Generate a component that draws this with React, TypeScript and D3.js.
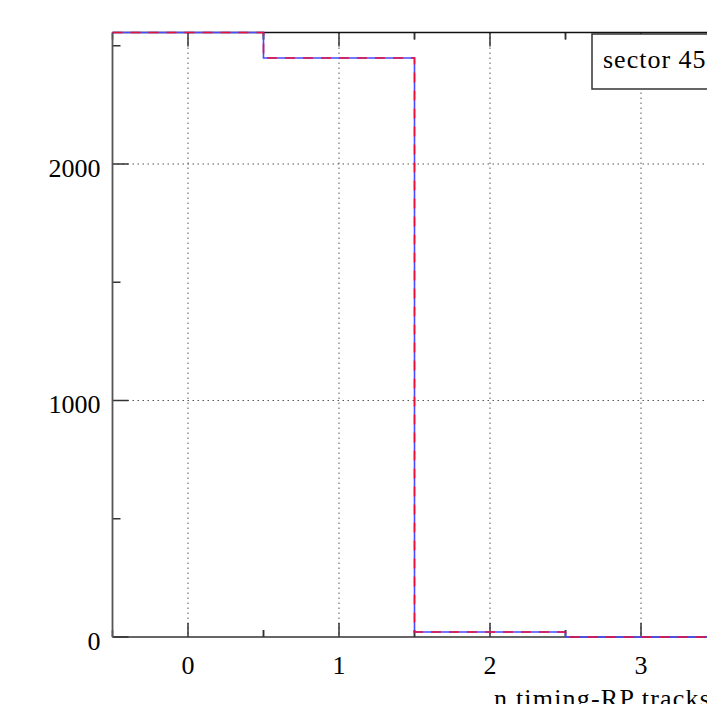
import React from "react";
import * as d3 from "d3";

const binEdges = [-0.5, 0.5, 1.5, 2.5, 3.5, 4.5, 5.5];
const binCounts = [2556, 2448, 21, 0, 0, 0];
const xTicks = [0, 1, 2, 3, 4, 5];
const xTickLabels = ["0", "1", "2", "3"];
const yTicks = [0, 1000, 2000];
const legendLabel = "sector 45";
const xTitle = "n timing-RP tracks";

const W = 707;
const H = 704;
const FONT = "'Liberation Serif', 'DejaVu Serif', serif";

export default function App() {
  const x = d3.scaleLinear().domain([-0.5, 3.5]).range([112.5, 716.5]);
  const y = d3.scaleLinear().domain([0, 2556]).range([637, 32.5]);
  const xMax = x(5.5);
  const left = x(-0.5);
  const bottom = y(0);
  const top = y(2556);

  const pts: [number, number][] = [];
  binCounts.forEach((c, i) => {
    pts.push([binEdges[i], c]);
    pts.push([binEdges[i + 1], c]);
  });
  const line = d3
    .line<[number, number]>()
    .x((d) => x(d[0]))
    .y((d) => y(d[1]));
  const pathD = line(pts) || "";

  const yMinor = d3.range(500, 2600, 1000);
  const xMinor = d3.range(-0.5, 5.6, 1).concat(d3.range(0.5, 5.6, 1));

  return (
    <svg
      width={W}
      height={H}
      style={{ position: "absolute", left: 0, top: 0, background: "#fff" }}
    >
      {/* grid */}
      {xTicks.map((t) => (
        <line
          key={"gx" + t}
          x1={x(t)}
          x2={x(t)}
          y1={top}
          y2={bottom}
          stroke="#555"
          strokeWidth={1}
          strokeDasharray="1.5,3.5"
        />
      ))}
      {yTicks
        .filter((t) => t > 0)
        .map((t) => (
          <line
            key={"gy" + t}
            x1={left}
            x2={xMax}
            y1={y(t)}
            y2={y(t)}
            stroke="#555"
            strokeWidth={1}
            strokeDasharray="1.5,3.5"
          />
        ))}
      {/* y ticks */}
      {yTicks.map((t) => (
        <line key={"yt" + t} x1={left} x2={left + 16} y1={y(t)} y2={y(t)} stroke="#333" strokeWidth={1.5} />
      ))}
      {yMinor.map((t) => (
        <line key={"ym" + t} x1={left} x2={left + 8} y1={y(t)} y2={y(t)} stroke="#333" strokeWidth={1.5} />
      ))}
      {/* x ticks */}
      {xTicks.map((t) => (
        <g key={"xt" + t}>
          <line x1={x(t)} x2={x(t)} y1={bottom} y2={bottom - 14} stroke="#333" strokeWidth={1.5} />
          <line x1={x(t)} x2={x(t)} y1={top} y2={top + 14} stroke="#333" strokeWidth={1.5} />
        </g>
      ))}
      {xMinor.map((t) => (
        <g key={"xm" + t}>
          <line x1={x(t)} x2={x(t)} y1={bottom} y2={bottom - 7} stroke="#333" strokeWidth={1.5} />
          <line x1={x(t)} x2={x(t)} y1={top} y2={top + 7} stroke="#333" strokeWidth={1.5} />
        </g>
      ))}
      {/* frame */}
      <line x1={left} x2={xMax} y1={bottom} y2={bottom} stroke="#333" strokeWidth={1.5} />
      <line x1={left} x2={xMax} y1={top} y2={top} stroke="#111" strokeWidth={1.5} />
      <line x1={left} x2={left} y1={top} y2={bottom} stroke="#555" strokeWidth={1.8} />
      {/* histogram */}
      <path d={pathD} fill="none" stroke="#4a4aff" strokeWidth={1.6} />
      <path d={pathD} fill="none" stroke="#e8103a" strokeWidth={1.6} strokeDasharray="10,8" />
      {/* tick labels */}
      {yTicks.map((t) => (
        <text
          key={"yl" + t}
          x={left - 12}
          y={y(t) + 13}
          textAnchor="end"
          fontFamily={FONT}
          fontSize={26}
          fill="#000"
        >
          {t}
        </text>
      ))}
      {xTickLabels.map((t) => (
        <text
          key={"xl" + t}
          x={x(+t)}
          y={bottom + 37}
          textAnchor="middle"
          fontFamily={FONT}
          fontSize={26}
          fill="#000"
        >
          {t}
        </text>
      ))}
      <text x={494} y={707} fontFamily={FONT} fontSize={26} letterSpacing={1.2} fill="#000">
        {xTitle}
      </text>
      {/* legend */}
      <rect x={592} y={34} width={200} height={55} fill="#fff" stroke="#333" strokeWidth={1.5} />
      <text x={603} y={68} fontFamily={FONT} fontSize={26} letterSpacing={1} fill="#000">
        {legendLabel}
      </text>
    </svg>
  );
}
